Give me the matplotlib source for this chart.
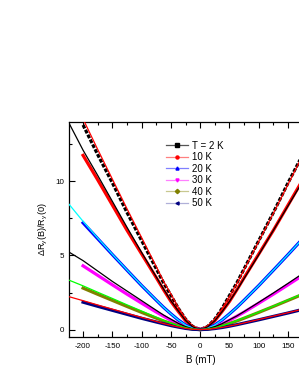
import matplotlib
matplotlib.use("Agg")
import matplotlib.pyplot as plt
from matplotlib.lines import Line2D
from matplotlib.ticker import MultipleLocator

plt.rcParams['font.family'] = ['Liberation Sans', 'DejaVu Sans']
plt.rcParams['mathtext.default'] = 'regular'

# field grid (mT) for measured data and for fit curves
B_data = [-200, -175, -150, -125, -100, -75, -62.5, -50, -37.5, -25, -12.5, 0,
          12.5, 25, 37.5, 50, 62.5, 75, 100, 125, 150, 175, 200]
B_fit = [-225] + B_data + [225]

labels = ['T = 2 K', '10 K', '20 K', '30 K', '40 K', '50 K']
x_ticks = [-200, -150, -100, -50, 0, 50, 100, 150]

d_2K = [13.8, 11.8, 9.9, 7.9, 6.0, 4.1, 3.15, 2.3, 1.44, 0.7, 0.2, 0,
        0.2, 0.7, 1.44, 2.3, 3.15, 4.1, 6.0, 7.9, 9.9, 11.8, 13.8]
d_10K = [11.75, 10.1, 8.4, 6.7, 5.1, 3.5, 2.68, 1.9, 1.23, 0.6, 0.17, 0,
         0.17, 0.6, 1.23, 1.9, 2.68, 3.5, 5.1, 6.7, 8.4, 10.1, 11.75]
d_20K = [7.2, 6.13, 5.06, 4.01, 2.97, 1.98, 1.5, 1.06, 0.65, 0.31, 0.08, 0,
         0.08, 0.31, 0.65, 1.06, 1.5, 1.98, 2.97, 4.01, 5.06, 6.13, 7.2]
d_30K = [4.3, 3.66, 3.02, 2.39, 1.78, 1.18, 0.9, 0.63, 0.39, 0.19, 0.05, 0,
         0.05, 0.19, 0.39, 0.63, 0.9, 1.18, 1.78, 2.39, 3.02, 3.66, 4.3]
d_40K = [2.8, 2.38, 1.97, 1.56, 1.16, 0.77, 0.58, 0.41, 0.25, 0.12, 0.03, 0,
         0.03, 0.12, 0.25, 0.41, 0.58, 0.77, 1.16, 1.56, 1.97, 2.38, 2.8]
d_50K = [1.85, 1.57, 1.30, 1.03, 0.76, 0.51, 0.39, 0.27, 0.17, 0.08, 0.02, 0,
         0.02, 0.07, 0.14, 0.23, 0.33, 0.44, 0.66, 0.89, 1.12, 1.36, 1.6]

# fit curves
f_2K = [15.9, 14.2, 12.15, 10.15, 8.15, 6.2, 4.25, 3.25, 2.4, 1.5, 0.75, 0.2, 0,
        0.2, 0.7, 1.42, 2.25, 3.1, 4.05, 5.95, 7.85, 9.8, 11.75, 13.7, 15.7]
f_10K = [14.0, 12.1, 10.4, 8.65, 6.9, 5.2, 3.55, 2.73, 1.95, 1.26, 0.62, 0.17, 0,
         0.17, 0.6, 1.22, 1.9, 2.65, 3.45, 5.05, 6.7, 8.35, 10.0, 11.7, 13.4]
f_20K = [8.5, 7.3, 6.17, 5.08, 4.02, 2.98, 1.99, 1.5, 1.06, 0.65, 0.31, 0.08, 0,
         0.08, 0.31, 0.65, 1.06, 1.5, 1.98, 2.97, 4.01, 5.06, 6.13, 7.2, 8.3]
f_30K = [5.25, 4.65, 3.95, 3.25, 2.6, 1.95, 1.3, 0.98, 0.7, 0.42, 0.2, 0.05, 0,
         0.05, 0.2, 0.4, 0.66, 0.92, 1.22, 1.84, 2.47, 3.12, 3.78, 4.42, 5.05]
f_40K = [3.35, 2.95, 2.52, 2.1, 1.67, 1.25, 0.83, 0.62, 0.44, 0.27, 0.13, 0.03, 0,
         0.03, 0.12, 0.26, 0.42, 0.6, 0.79, 1.18, 1.58, 2.0, 2.42, 2.85, 3.3]
f_50K = [2.23, 1.95, 1.66, 1.38, 1.1, 0.82, 0.55, 0.41, 0.29, 0.18, 0.08, 0.02, 0,
         0.02, 0.07, 0.15, 0.24, 0.34, 0.45, 0.68, 0.91, 1.14, 1.38, 1.62, 1.86]

data = [d_2K, d_10K, d_20K, d_30K, d_40K, d_50K]
fits = [f_2K, f_10K, f_20K, f_30K, f_40K, f_50K]
data_colors = ['black', 'red', 'blue', 'magenta', '#808000', '#000080']
fit_colors = ['red', 'black', 'cyan', 'black', '#00ff00', 'red']
legend_line_colors = ['#555555', '#ff8080', '#8080ff', '#ff80ff', '#c8c890', '#b0b0d8']
markers = ['s', 'o', '^', 'v', 'D', '<']

fig = plt.figure(figsize=(2.99, 3.87), dpi=100)
# right part of the axes runs past the figure edge, as in the original
ax = fig.add_axes([69 / 299, 1 - 337 / 387, 263 / 299, 215 / 387])

for i, (d, c) in enumerate(zip(data, data_colors)):
    ls = (0, (1.2, 0.5)) if i == 0 else '-'
    ax.plot(B_data, d, color=c, lw=2.3, ls=ls, dash_capstyle='butt', zorder=2)
for f, c in zip(fits, fit_colors):
    ax.plot(B_fit, f, color=c, lw=0.9, zorder=3)

ax.set_xlim(-224, 225)
ax.set_ylim(-0.5, 14)
ax.set_xticks(x_ticks)
ax.set_xticklabels([str(t) for t in x_ticks])
ax.xaxis.set_minor_locator(MultipleLocator(25))
ax.yaxis.set_major_locator(MultipleLocator(5))
ax.yaxis.set_minor_locator(MultipleLocator(2.5))
ax.tick_params(which='both', direction='in', top=True, right=True, labelsize=5.8, width=0.8)
ax.tick_params(which='major', length=4, pad=4)
ax.tick_params(axis='y', which='major', pad=3.5)
ax.tick_params(which='minor', length=2)
for s in ax.spines.values():
    s.set_linewidth(0.9)

ax.set_xlabel('B (mT)', fontsize=7, labelpad=4)
ax.set_ylabel(r'$\Delta$R$_{y}$(B)/R$_{y}$(0)', fontsize=6.6, labelpad=4)

handles = [Line2D([], [], color=lc, marker=m, markersize=2.2, markerfacecolor=dc,
                  markeredgecolor=dc, lw=0.9)
           for lc, m, dc in zip(legend_line_colors, markers, data_colors)]
ax.legend(handles, labels, loc='upper left', bbox_to_anchor=(161 / 299, 1 - 136 / 387),
          bbox_transform=fig.transFigure, frameon=False, fontsize=7,
          handlelength=2.25, handletextpad=0.4, labelspacing=0.15, borderpad=0)

fig.savefig('out.png', dpi=100)
